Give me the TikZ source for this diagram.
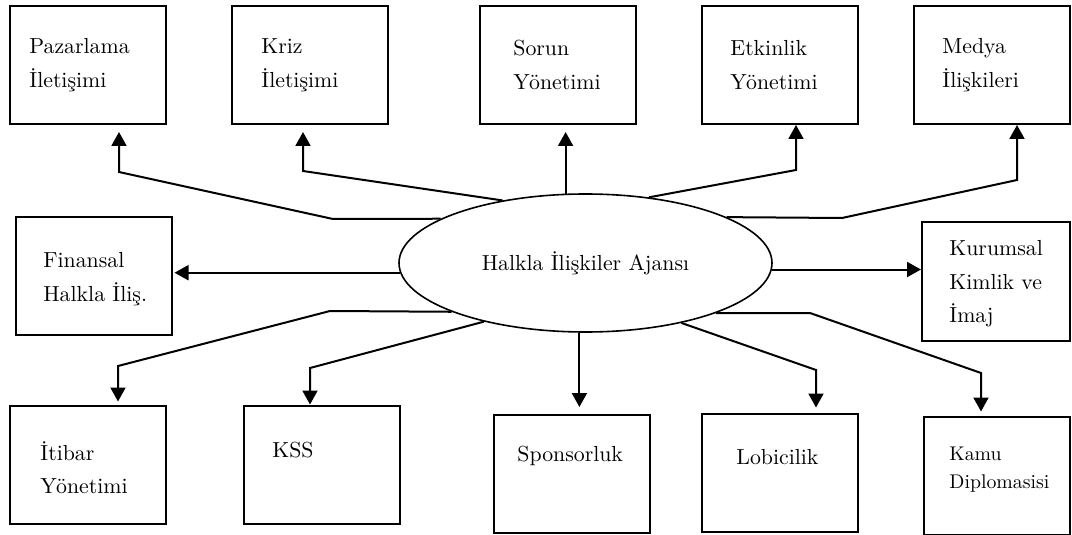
\documentclass[tikz,border=0pt]{standalone}
\usepackage{fontspec}
\usetikzlibrary{shapes.geometric,arrows.meta}

\begin{document}
\begin{tikzpicture}[x=0.5pt,y=-0.5pt,
      box/.style={rectangle,draw,line width=1pt,minimum width=78pt,minimum height=59pt,inner sep=0pt},
      lbl/.style={anchor=west,align=left,inner sep=0pt,font=\fontsize{10.9}{16.8}\selectfont},
      arr/.style={-{Triangle[length=7pt,width=7.5pt]},line width=1pt}
    ]
      \useasboundingbox (0,0) rectangle (1072,535);

      \node[draw,ellipse,line width=0.8pt,minimum width=186.5pt,minimum height=69pt,inner sep=0pt,
        font=\fontsize{10.9}{13}\selectfont] (ajans) at (585.5,263) {Halkla İlişkiler Ajansı};

      \node[box] (pazar) at (87.5,65) {};
      \node[box] (kriz) at (310,65) {};
      \node[box] (sorun) at (557.5,65) {};
      \node[box] (etkin) at (780,65) {};
      \node[box] (medya) at (991.5,65) {};
      \node[box] (finans) at (93.5,276) {};
      \node[box,minimum width=74pt] (kurum) at (996,281.5) {};
      \node[box] (itibar) at (88,464.5) {};
      \node[box] (kss) at (321.5,464.5) {};
      \node[box] (spons) at (571.5,474) {};
      \node[box] (lobi) at (780,472.5) {};
      \node[box,minimum width=73pt] (kamu) at (997,475.5) {};

      \node[lbl] (pazar-t) at (29,65) {Pazarlama\\İletişimi};
      \node[lbl] (kriz-t) at (261,65) {Kriz\\İletişimi};
      \node[lbl] (sorun-t) at (513,65) {Sorun\\Yönetimi};
      \node[lbl] (etkin-t) at (730,65) {Etkinlik\\Yönetimi};
      \node[lbl] (medya-t) at (942,65) {Medya\\İlişkileri};
      \node[lbl] (finans-t) at (43,279) {Finansal\\Halkla İliş.};
      \node[lbl] (kurum-t) at (949,284) {Kurumsal\\Kimlik ve\\İmaj};
      \node[lbl] (itibar-t) at (40,467.5) {İtibar\\Yönetimi};
      \node[lbl] (kss-t) at (272,450) {KSS};
      \node[lbl] (spons-t) at (517,456) {Sponsorluk};
      \node[lbl] (lobi-t) at (736,457) {Lobicilik};
      \node[lbl,font=\fontsize{9.9}{14}\selectfont] (kamu-t) at (949,470) {Kamu\\Diplomasisi};

      \coordinate (pazar-a) at (333,219);
      \coordinate (pazar-b) at (119,172);
      \coordinate (kriz-b) at (303,171);
      \coordinate (etkin-b) at (796,170);
      \coordinate (medya-a) at (842,218);
      \coordinate (medya-b) at (1017,180);
      \coordinate (itibar-a) at (330,311);
      \coordinate (itibar-b) at (118,366);
      \coordinate (kss-b) at (310,368);
      \coordinate (lobi-b) at (816,370);
      \coordinate (kamu-a) at (810,313);
      \coordinate (kamu-b) at (981,373);

      \draw[arr,shorten >=3.5pt] (ajans.163) -- (pazar-a) -- (pazar-b) -- (pazar-b |- pazar.south);
      \draw[arr,shorten >=3.5pt] (ajans.143) -- (kriz-b) -- (kriz-b |- kriz.south);
      \draw[arr,shorten >=3.5pt] (ajans.106) -- (ajans.106 |- sorun.south);
      \draw[arr] (ajans.46) -- (etkin-b) -- (etkin-b |- etkin.south);
      \draw[arr] (ajans.18) -- (medya-a) -- (medya-b) -- (medya-b |- medya.south);
      \draw[arr,shorten >=1pt] (ajans.183) -- (ajans.183 -| finans.east);
      \draw[arr] (ajans.358) -- (ajans.358 -| kurum.west);
      \draw[arr,shorten >=1.5pt] (ajans.200) -- (itibar-a) -- (itibar-b) -- (itibar-b |- itibar.north);
      \draw[arr] (ajans.210) -- (kss-b) -- (kss-b |- kss.north);
      \draw[arr,shorten >=3.5pt] (ajans.265) -- (ajans.265 |- spons.north);
      \draw[arr,shorten >=2.5pt] (ajans.328) -- (lobi-b) -- (lobi-b |- lobi.north);
      \draw[arr,shorten >=2pt] (ajans.339) -- (kamu-a) -- (kamu-b) -- (kamu-b |- kamu.north);
    \end{tikzpicture}
\end{document}
